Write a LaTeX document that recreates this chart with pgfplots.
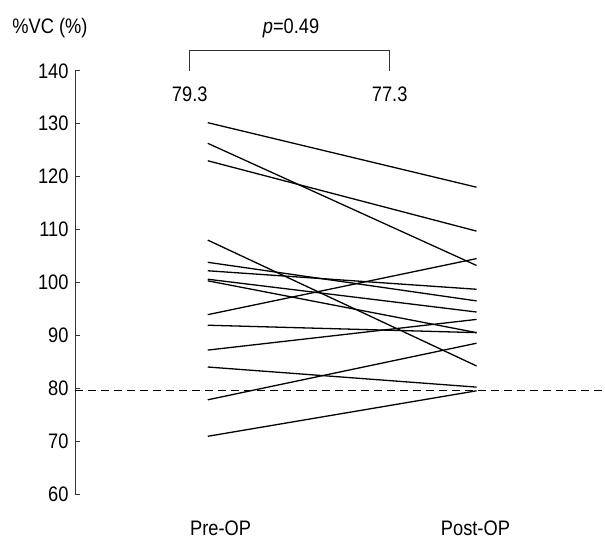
\documentclass[border=0pt]{standalone}
\usepackage{fontspec}
\setmainfont[FakeStretch=0.87]{Liberation Sans}
\usepackage{pgfplots}
\pgfplotsset{compat=1.18}
\begin{document}
\begin{tikzpicture}
\begin{axis}[
  scale only axis,
  width=530pt, height=423.5pt,
  xmin=-0.494, xmax=1.476,
  ymin=60, ymax=140,
  axis x line=none,
  axis y line=left,
  axis line style={-, line width=0.8pt, black!80},
  ytick={60,70,...,140},
  tick align=inside,
  major tick length=5pt,
  ytick style={line width=0.8pt, black!80},
  /pgf/number format/assume math mode=true,
  yticklabel style={font=\fontsize{21}{24}\selectfont, xshift=-3pt},
  clip=false,
]
\path (axis cs:-0.773,51.3) rectangle (axis cs:1.476,153.4);
\addplot[black, line width=1.1pt, dash pattern=on 8pt off 5pt] coordinates {(-0.494,79.5) (1.476,79.5)};
\addplot[black, line width=1.3pt] coordinates {(0,130.2) (1,118.0)};
\addplot[black, line width=1.3pt] coordinates {(0,126.3) (1,103.2)};
\addplot[black, line width=1.3pt] coordinates {(0,123.0) (1,109.7)};
\addplot[black, line width=1.3pt] coordinates {(0,108.0) (1,84.2)};
\addplot[black, line width=1.3pt] coordinates {(0,103.8) (1,96.5)};
\addplot[black, line width=1.3pt] coordinates {(0,102.2) (1,98.7)};
\addplot[black, line width=1.3pt] coordinates {(0,100.6) (1,94.4)};
\addplot[black, line width=1.3pt] coordinates {(0,100.3) (1,90.5)};
\addplot[black, line width=1.3pt] coordinates {(0,93.9) (1,104.5)};
\addplot[black, line width=1.3pt] coordinates {(0,91.9) (1,90.5)};
\addplot[black, line width=1.3pt] coordinates {(0,87.2) (1,93.0)};
\addplot[black, line width=1.3pt] coordinates {(0,84.0) (1,80.2)};
\addplot[black, line width=1.3pt] coordinates {(0,77.8) (1,88.5)};
\addplot[black, line width=1.3pt] coordinates {(0,70.9) (1,79.5)};
\draw[black!80, line width=1pt] (axis cs:-0.067,140) -- (axis cs:-0.067,143.8) -- (axis cs:0.677,143.8) -- (axis cs:0.677,140);
\node[font=\fontsize{21}{24}\selectfont] at (axis cs:-0.067,135.5) {79.3};
\node[font=\fontsize{21}{24}\selectfont] at (axis cs:0.677,135.5) {77.3};
\node[font=\fontsize{21}{24}\selectfont] at (axis cs:0.31,148.1) {\textit{p}=0.49};
\node[font=\fontsize{21}{24}\selectfont] at (axis cs:-0.587,148.1) {\%VC (\%)};
\node[font=\fontsize{21}{24}\selectfont] at (axis cs:0.048,53.6) {Pre-OP};
\node[font=\fontsize{21}{24}\selectfont] at (axis cs:0.996,53.6) {Post-OP};
\end{axis}
\end{tikzpicture}
\end{document}
